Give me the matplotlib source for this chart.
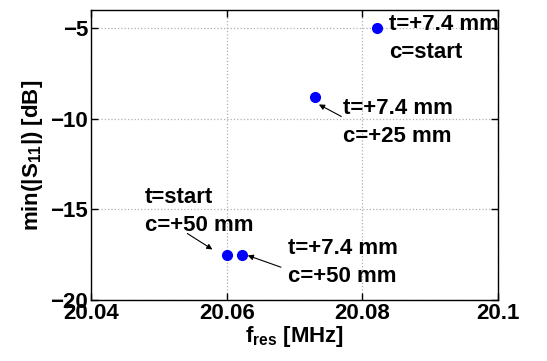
import matplotlib
matplotlib.use("Agg")
import matplotlib.pyplot as plt

plt.rcParams['font.family'] = ['Liberation Sans', 'DejaVu Sans']
plt.rcParams['font.weight'] = 'bold'
plt.rcParams['mathtext.fontset'] = 'custom'
plt.rcParams['mathtext.rm'] = 'Liberation Sans:bold'
plt.rcParams['mathtext.bf'] = 'Liberation Sans:bold'

# resonance frequency [MHz] and min |S11| [dB]
f_res = [20.060, 20.0623, 20.0730, 20.0822]
s11_min = [-17.5, -17.5, -8.8, -5.0]

labels = ["t=start\nc=+50 mm", "t=+7.4 mm\nc=+50 mm", "t=+7.4 mm\nc=+25 mm", "t=+7.4 mm\nc=start"]
label_pos = [(20.0479, -15.13), (20.0690, -17.95), (20.0772, -10.22), (20.0839, -5.57)]
arrow_tail = [(20.0542, -16.33), (20.0680, -18.19), (20.0769, -9.87), None]
arrow_head = [(20.0579, -17.21), (20.0631, -17.54), (20.0736, -9.21), None]

fig = plt.figure(figsize=(5.47, 3.61), dpi=100)
ax = fig.add_axes([0.1664, 0.169, 0.744, 0.803])

ax.plot(f_res, s11_min, 'o', color='#0000ff', markersize=7, linestyle='none')

for i in range(len(labels)):
    ax.text(label_pos[i][0], label_pos[i][1], labels[i], fontsize=16, fontweight='bold',
            ha='left', va='center', linespacing=1.45)
    if arrow_tail[i] is not None:
        ax.annotate('', xy=arrow_head[i], xytext=arrow_tail[i],
                    arrowprops=dict(arrowstyle='-|>', color='black', lw=0.8, mutation_scale=8,
                                    shrinkA=0, shrinkB=0))

ax.set_xlim(20.04, 20.1)
ax.set_ylim(-20, -4)
ax.set_xticks([20.04, 20.06, 20.08, 20.1])
ax.set_xticklabels(["20.04", "20.06", "20.08", "20.1"])
ax.set_yticks([-20, -15, -10, -5])
ax.set_yticklabels(["\u221220", "\u221215", "\u221210", "\u22125"])
ax.tick_params(direction='in', top=True, right=True, labelsize=16, length=5, width=1, pad=2)
for s in ax.spines.values():
    s.set_linewidth(1.0)
ax.grid(True, linestyle=':', color='#b0b0b0', linewidth=0.9)

ax.set_xlabel(r"f$_{\mathrm{res}}$ [MHz]", fontsize=16, fontweight='bold', labelpad=0)
ax.set_ylabel(r"min(|S$_{\mathrm{11}}$|) [dB]", fontsize=16, fontweight='bold', labelpad=4)

fig.savefig("out.png", dpi=100)
